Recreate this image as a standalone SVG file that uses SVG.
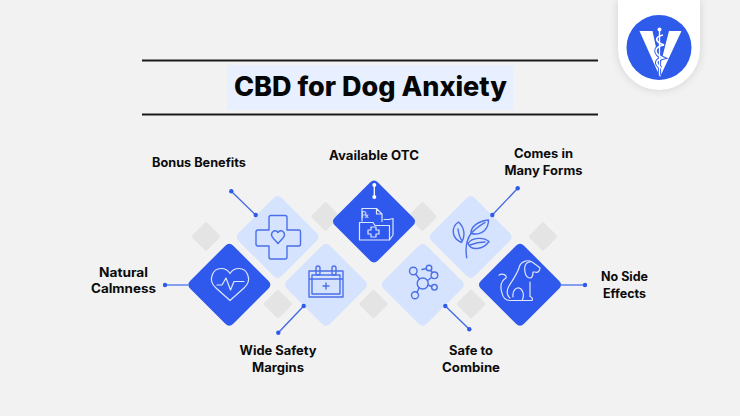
<svg xmlns="http://www.w3.org/2000/svg" width="740" height="416" viewBox="0 0 740 416">
<defs>
<filter id="sh" x="-30%" y="-30%" width="160%" height="160%"><feGaussianBlur stdDeviation="5"/></filter>
<path id="d" d="M-39 -4Q-43 0 -39 4L-4 39Q0 43 4 39L39 4Q43 0 39 -4L4 -39Q0 -43 -4 -39Z"/>
<rect id="g" x="-10.500" y="-10.500" width="21" height="21" rx="2" transform="rotate(45)"/>
<marker id="dot" markerUnits="userSpaceOnUse" markerWidth="6" markerHeight="6" refX="3" refY="3"><circle cx="3" cy="3" r="2.200" fill="#2f5bea"/></marker>
<marker id="wdot" markerUnits="userSpaceOnUse" markerWidth="6" markerHeight="6" refX="3" refY="3"><circle cx="3" cy="3" r="2" fill="#fff"/></marker>
</defs>
<style>
.t{font-family:"Inter","Liberation Sans",sans-serif;font-weight:700;font-size:12.500px;fill:#0c0c0c;text-anchor:middle}
.c{stroke:#3f66e6;stroke-width:1.300;fill:none;marker-start:url(#dot);marker-end:url(#dot)}
.cw{stroke:#fff;stroke-width:1.300;fill:none;marker-start:url(#wdot);marker-end:url(#wdot)}
.s{stroke:#5f83f0;stroke-width:1.500;fill:none;marker-start:url(#dot)}
.dk{fill:#2f58ec}.lt{fill:#d5e3ff}.gr{fill:#e4e4e4}
.iw{fill:none;stroke:#dfe7ff;stroke-width:1.200;stroke-linecap:round;stroke-linejoin:round}
.ib{fill:none;stroke:#4a6fe8;stroke-width:1.400;stroke-linecap:round;stroke-linejoin:round}
</style>
<rect width="740" height="416" fill="#f2f2f2"/>
<g id="title">
<path d="M142 60.500H598M142 114.500H598" stroke="#1a1a1a" stroke-width="2"/>
<rect x="227" y="65" width="286" height="45" fill="#e8effe"/>
<text x="370.500" y="96" font-family="Inter,'Liberation Sans',sans-serif" font-weight="800" font-size="26.500" fill="#060606" text-anchor="middle" textLength="273" lengthAdjust="spacingAndGlyphs">CBD for Dog Anxiety</text>
</g>
<g id="logo">
<path d="M618 0H700V49A41 41 0 0 1 618 49Z" fill="#000" opacity=".13" filter="url(#sh)"/>
<path d="M618 0H700V49A41 41 0 0 1 618 49Z" fill="#fff"/>
<circle cx="659" cy="47.500" r="32.500" fill="#2f5bea"/>
<path d="M639.500 31H652.500L660 66L669 31H681.500L660 77Z" fill="#fff"/>
<path d="M663 35C654 37 655 42 664 45C653 47 654 54 663 58C655 60 655 64 661 68" fill="none" stroke="#2f5bea" stroke-width="3.600"/>
<path d="M659.500 29V75" stroke="#2f5bea" stroke-width="3.200"/>
<path d="M659.500 29V75" stroke="#fff" stroke-width="1.300"/>
<circle cx="659.500" cy="29.500" r="2" fill="#fff"/>
<path d="M663 35C654 37 655 42 664 45C653 47 654 54 663 58C655 60 655 64 661 68" fill="none" stroke="#fff" stroke-width="1.700"/>
</g>
<g id="decor">
<use href="#g" x="206" y="236.500" class="gr"/>
<use href="#g" x="278" y="304" class="gr"/>
<use href="#g" x="325.500" y="216.500" class="gr"/>
<use href="#g" x="422.500" y="216.500" class="gr"/>
<use href="#g" x="373.500" y="304" class="gr"/>
<use href="#g" x="471" y="304" class="gr"/>
<use href="#g" x="543" y="236.500" class="gr"/>
</g>
<g id="node-bonus">
<use href="#d" x="277.700" y="237" class="lt"/>
<path class="ib" d="M271 215.500H285Q287 215.500 287 217.500V230H299Q300.500 230 300.500 232V244Q300.500 246 299 246H287V257Q287 259 285 259H271Q269 259 269 257V246H258Q256 246 256 244V232Q256 230 258 230H269V217.500Q269 215.500 271 215.500Z"/>
<path class="ib" d="M278 243.500L273 238C269 233 275 228 278 232.500C281 228 287 233 283 238Z"/>
<text class="t" x="199" y="167" textLength="94" lengthAdjust="spacingAndGlyphs">Bonus Benefits</text>
</g>
<g id="node-otc">
<use href="#d" x="374" y="221.500" class="dk"/>
<path class="iw" d="M362 221V208.500H376.500L382 214V221.500M376.500 208.500V214H382M384 219.500H389L393 218.500V235L389.500 240M359.500 222.500H373L375 225.500H389.500V240H359.500Z"/>
<path class="iw" d="M371 227H376V230H379V234H376V237H371V234H368V230H371Z"/>
<text x="361" y="218" font-family="'DejaVu Sans',sans-serif" font-size="9" fill="#dfe7ff">℞</text>
<text class="t" x="374" y="160" textLength="90" lengthAdjust="spacingAndGlyphs">Available OTC</text>
</g>
<g id="node-forms">
<use href="#d" x="470.700" y="237" class="lt"/>
<path class="ib" d="M466.700 257.700C465.500 250 465.500 241 471 233.500M468 243.500C472 237 484 237 489 241.500C483 250 471 251 468 243.500Z"/>
<path class="ib" d="M471 233.500C470.500 226 479 221 488.500 220C488.500 228 483 236 471 233.500ZM472 232.500C476 228 481 225 485 222.500M470 245C475 243 480 242 485 242"/>
<path class="ib" d="M458.500 222C451 227 451 238 461.500 242.500C466 235 464 227 458.500 222ZM458 229C458.500 233 459.500 237 461.500 240"/>
<text class="t" x="543.500" y="158" textLength="59" lengthAdjust="spacingAndGlyphs">Comes in</text>
<text class="t" x="543.500" y="175" textLength="78" lengthAdjust="spacingAndGlyphs">Many Forms</text>
</g>
<g id="node-natural">
<use href="#d" x="229.300" y="284.700" class="dk"/>
<path class="iw" d="M230 300.500L216 288C207 280 213 268.500 221 268.500C225 268.500 228 270 230 273.500C232 270 235 268.500 239 268.500C247 268.500 253 280 244 288Z"/>
<path class="iw" d="M217 285H222L226 278L230.500 290L234 281.500H244"/>
<text class="t" x="123.500" y="277" textLength="49" lengthAdjust="spacingAndGlyphs">Natural</text>
<text class="t" x="123.500" y="293" textLength="65" lengthAdjust="spacingAndGlyphs">Calmness</text>
</g>
<g id="node-wide">
<use href="#d" x="326" y="284.700" class="lt"/>
<path class="ib" d="M309 271H343V297H309ZM312 275H340V294H312ZM309 279H343" stroke-width="1.100"/>
<rect class="ib" x="316" y="266" width="4" height="9" rx="2"/>
<rect class="ib" x="332" y="266" width="4" height="9" rx="2"/>
<path class="ib" d="M326 283V289M323 286H329"/>
<text class="t" x="278" y="355" textLength="77" lengthAdjust="spacingAndGlyphs">Wide Safety</text>
<text class="t" x="278" y="372" textLength="52" lengthAdjust="spacingAndGlyphs">Margins</text>
</g>
<g id="node-safe">
<use href="#d" x="422.700" y="284.700" class="lt"/>
<g class="ib"><circle cx="422.700" cy="283.500" r="5.500"/><circle cx="413.300" cy="271" r="3.800"/><circle cx="429" cy="268" r="2.800"/><circle cx="434.400" cy="275.300" r="3.300"/><circle cx="434.400" cy="287.300" r="2.800"/><circle cx="415" cy="295.300" r="3.500"/>
<path d="M415.500 274L419.500 279M427.500 280.500L431.500 277.500M428 285L431.700 286.500M419 288L417 292.500M430.500 270.500L432.500 272.500M422 269.500L426.500 268.500"/></g>
<text class="t" x="471" y="355" textLength="44" lengthAdjust="spacingAndGlyphs">Safe to</text>
<text class="t" x="471" y="372" textLength="58" lengthAdjust="spacingAndGlyphs">Combine</text>
</g>
<g id="node-dog">
<use href="#d" x="520" y="284.700" class="dk"/>
<path class="iw" d="M519 268C516 276 512 281 509 286C506 291 507 296 510 298M499 275C503 273 507 275 506 278C501 281 500 287 502 293C503 298 506 300.500 510 300.500H532C533 299 532 297 530 296.500V282M513 297C512 290 517 286 521 289C524 292 524 297 522 300.500M519 268C520 262 527 259 532 262C535 264 537 265 540 268C540 271 538 273 535 272H533C533 275 532 278 530 278C526 278 524 272 525 266C526 263 528 262 530 262"/>
<text class="t" x="624.500" y="281" textLength="47" lengthAdjust="spacingAndGlyphs">No Side</text>
<text class="t" x="624.500" y="298" textLength="43" lengthAdjust="spacingAndGlyphs">Effects</text>
</g>
<g id="connectors">
<path class="c" d="M231.300 191.300L255.700 215"/>
<path class="cw" d="M374.300 185V197"/>
<path class="c" d="M517.700 188.300L492.300 215"/>
<path class="c" d="M303.700 306L278.300 332.700"/>
<path class="c" d="M445.300 306L469.300 329.300"/>
<path class="s" d="M165 285H188"/>
<path class="s" d="M585 285H561"/>
</g>
</svg>
